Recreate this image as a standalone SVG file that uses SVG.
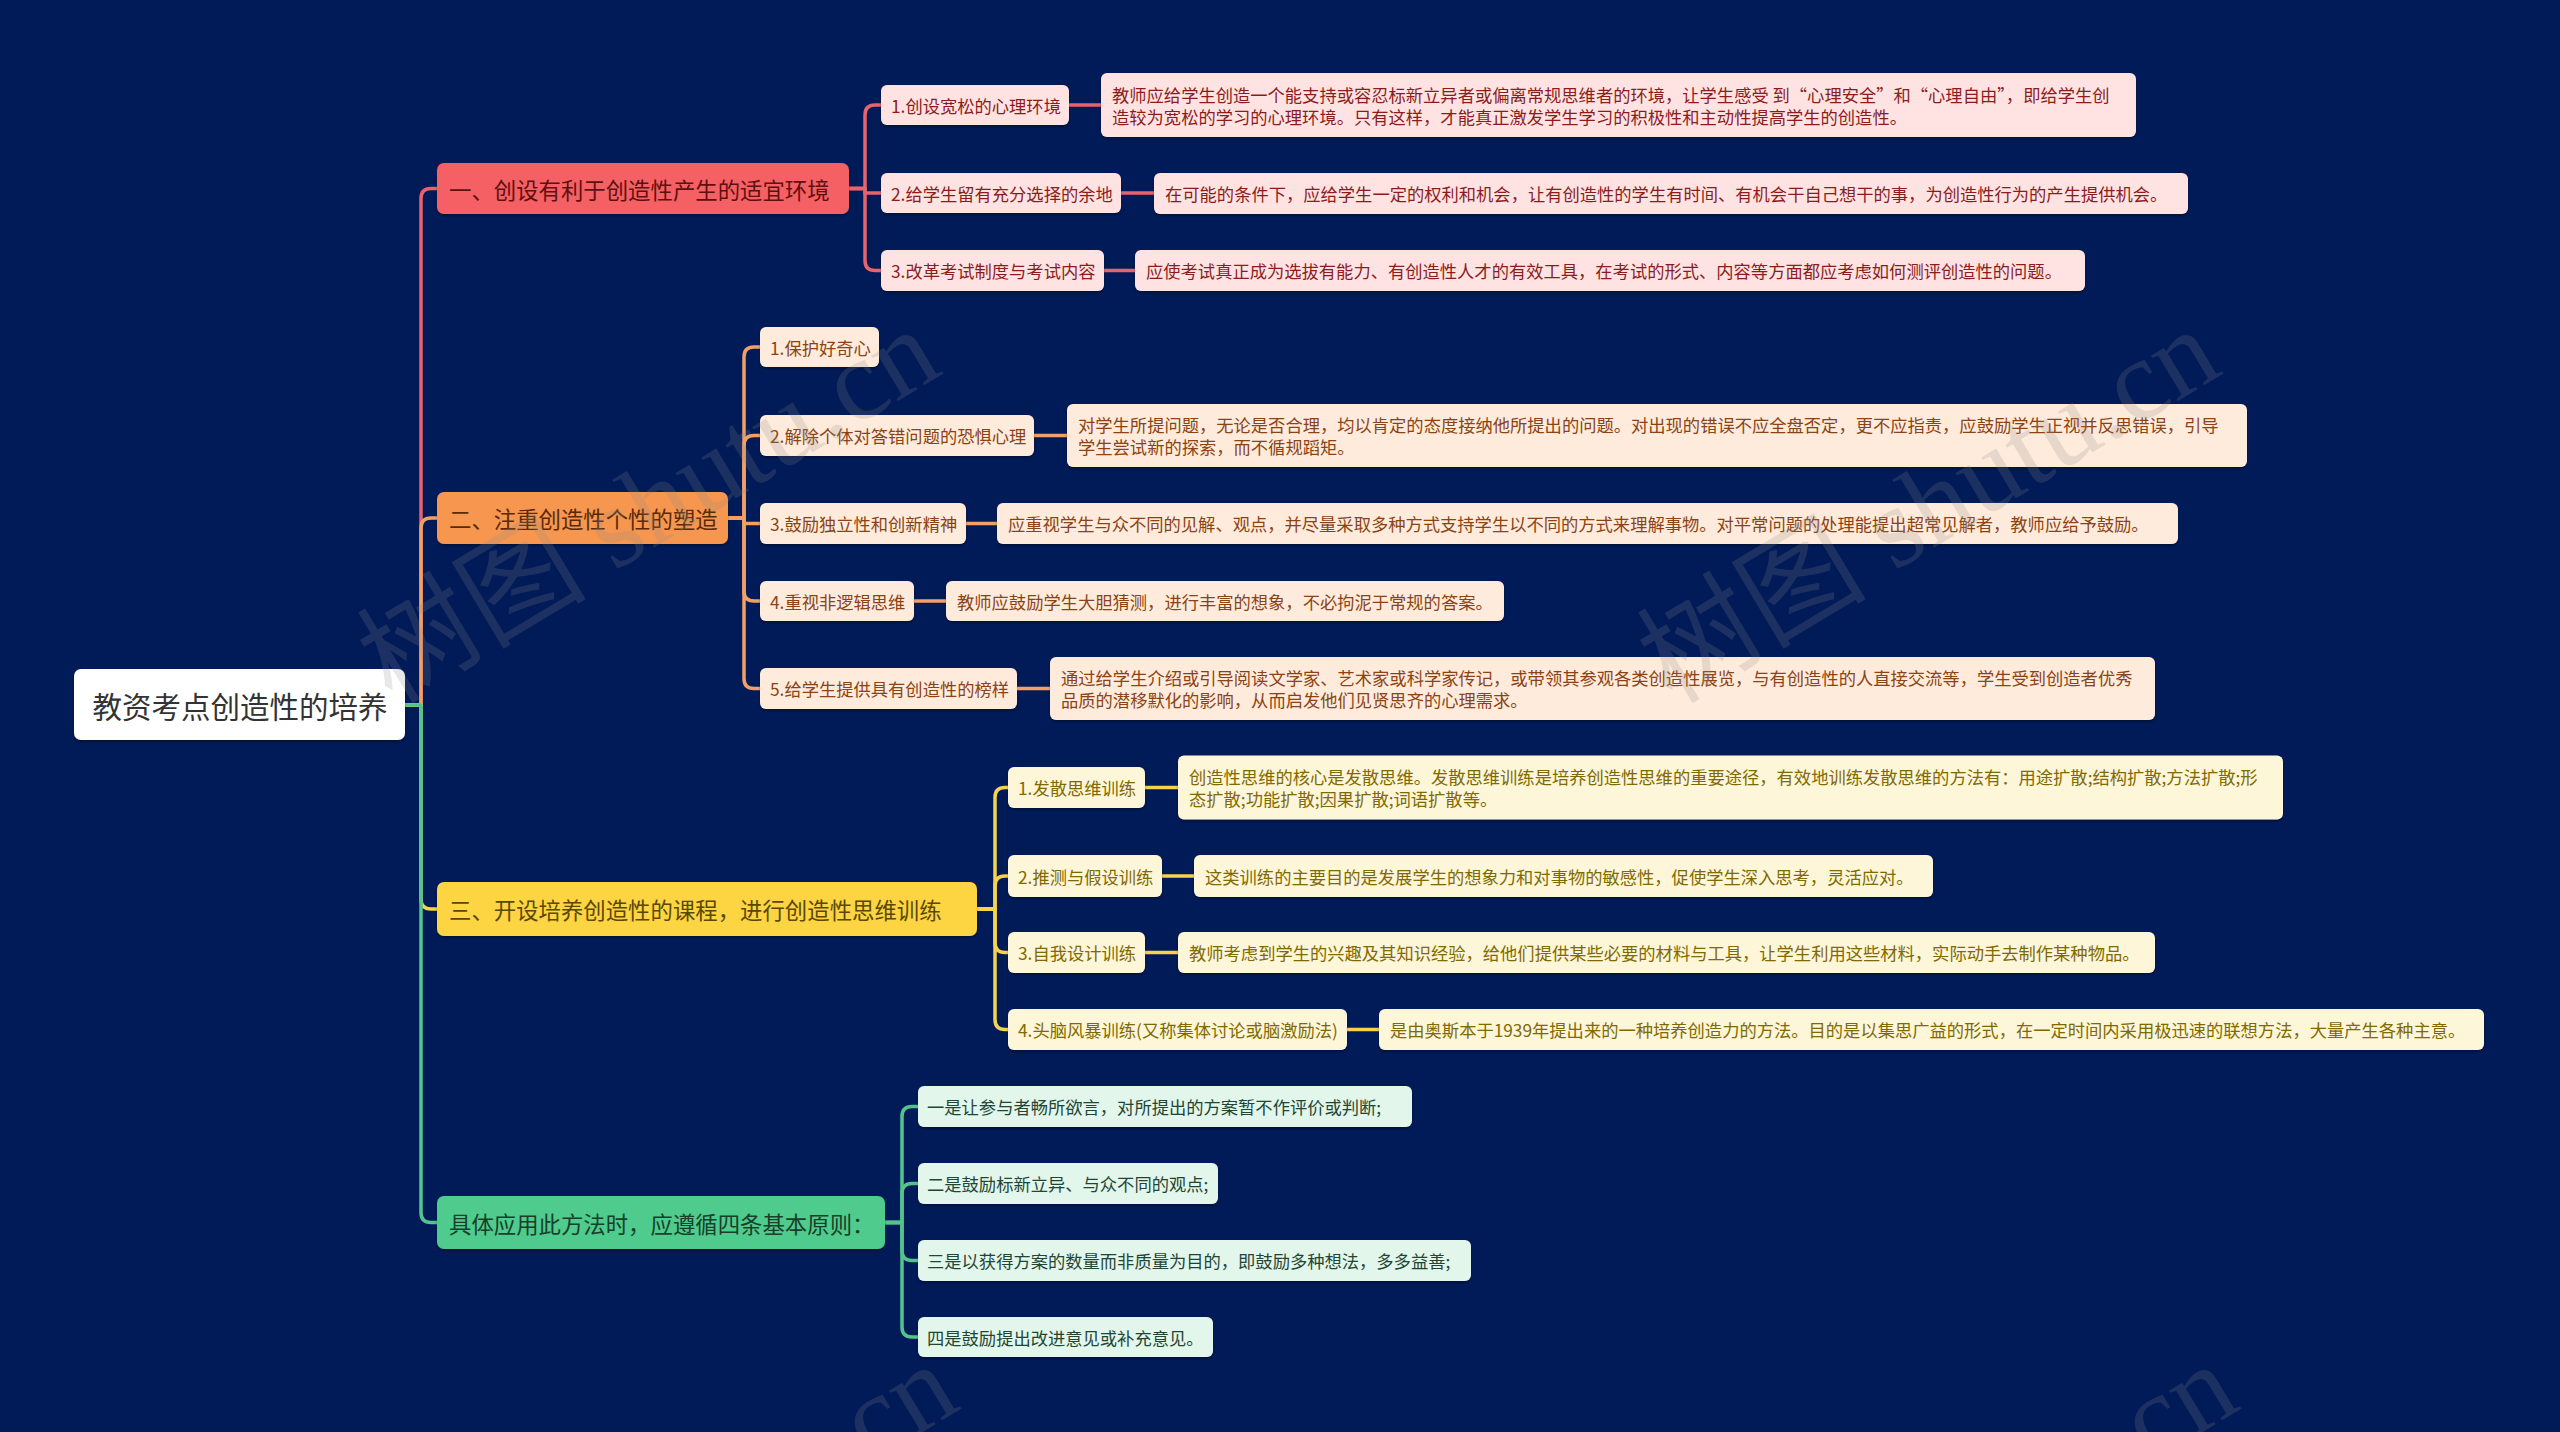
<svg xmlns="http://www.w3.org/2000/svg" width="2560" height="1432" viewBox="0 0 2560 1432">
<defs>
<style>
text{font-family:"Noto Sans CJK SC","Noto Sans",sans-serif;dominant-baseline:central}
.root rect{fill:#ffffff}
.root text{fill:#333333;font-size:29.5px;text-anchor:middle}
.br text{font-size:22.4px}
.lf text{font-size:17.3px}
.b1 .br rect{fill:#f46163}.b1 .br text{fill:#5e1010}
.b1 .lf rect{fill:#ffe3e3}.b1 .lf text{fill:#8c1c1c}
.b2 .br rect{fill:#f7964f}.b2 .br text{fill:#5a2a08}
.b2 .lf rect{fill:#ffebdc}.b2 .lf text{fill:#8b4314}
.b3 .br rect{fill:#fdd443}.b3 .br text{fill:#5a4800}
.b3 .lf rect{fill:#fef6d8}.b3 .lf text{fill:#806a00}
.b4 .br rect{fill:#4fcb8d}.b4 .br text{fill:#173f2a}
.b4 .lf rect{fill:#e2f6ec}.b4 .lf text{fill:#1f4634}
rect{filter:url(#sh)}
#connectors path{fill:none;stroke-width:3.5;stroke-linejoin:round;stroke-linecap:round}
.c1{stroke:#e8636b}.c2{stroke:#f3a066}.c3{stroke:#f5d34c}.c4{stroke:#52c48c}
.wm{font-family:"Liberation Serif","Noto Sans CJK SC",serif;font-size:115px;fill:#8a8a8a;opacity:0.2;dominant-baseline:auto}
</style>
<filter id="sh" x="-5%" y="-20%" width="110%" height="150%">
<feDropShadow dx="0" dy="2" stdDeviation="1" flood-color="#000000" flood-opacity="0.35"/>
</filter>
</defs>
<rect x="0" y="0" width="2560" height="1432" fill="#011b58" style="filter:none"/>

<g id="connectors">
<path class="c1" d="M405 705 H421 V198.5 Q421 188.5 431 188.5 H437"/>
<path class="c2" d="M405 705 H421 V528 Q421 518 431 518 H437"/>
<path class="c3" d="M405 705 H421 V899 Q421 909 431 909 H437"/>
<path class="c4" d="M405 705 H421 V1212.5 Q421 1222.5 431 1222.5 H437"/>

<path class="c1" d="M849 188.5 H865 V115 Q865 105 875 105 H881"/>
<path class="c1" d="M849 188.5 H865 V193 H881"/>
<path class="c1" d="M849 188.5 H865 V260.5 Q865 270.5 875 270.5 H881"/>
<path class="c1" d="M1069 105 H1101"/>
<path class="c1" d="M1121 193 H1154"/>
<path class="c1" d="M1104 270.5 H1135"/>

<path class="c2" d="M728 518 H744 V357 Q744 347 754 347 H760"/>
<path class="c2" d="M728 518 H744 V445.5 Q744 435.5 754 435.5 H760"/>
<path class="c2" d="M728 518 H744 V523.5 H760"/>
<path class="c2" d="M728 518 H744 V591 Q744 601 754 601 H760"/>
<path class="c2" d="M728 518 H744 V678.5 Q744 688.5 754 688.5 H760"/>
<path class="c2" d="M1034 435.5 H1067"/>
<path class="c2" d="M966 523.5 H997"/>
<path class="c2" d="M914 601 H946"/>
<path class="c2" d="M1017 688.5 H1050"/>

<path class="c3" d="M977 909 H995 V797.5 Q995 787.5 1005 787.5 H1008"/>
<path class="c3" d="M977 909 H995 V886 Q995 876 1005 876 H1008"/>
<path class="c3" d="M977 909 H995 V942.5 Q995 952.5 1005 952.5 H1008"/>
<path class="c3" d="M977 909 H995 V1019.5 Q995 1029.5 1005 1029.5 H1008"/>
<path class="c3" d="M1145 787.5 H1178"/>
<path class="c3" d="M1162 876 H1194"/>
<path class="c3" d="M1145 952.5 H1178"/>
<path class="c3" d="M1347 1029.5 H1379"/>

<path class="c4" d="M885 1222.5 H902 V1116.5 Q902 1106.5 912 1106.5 H918"/>
<path class="c4" d="M885 1222.5 H902 V1193.5 Q902 1183.5 912 1183.5 H918"/>
<path class="c4" d="M885 1222.5 H902 V1250.5 Q902 1260.5 912 1260.5 H918"/>
<path class="c4" d="M885 1222.5 H902 V1327 Q902 1337 912 1337 H918"/>
</g>

<g id="root" class="root">
<rect x="74" y="669" width="331" height="71" rx="7"/>
<text x="240" y="705">教资考点创造性的培养</text>
</g>

<g class="b1">
<g id="b1" class="br"><rect x="437" y="163" width="412" height="51" rx="7"/><text x="449" y="188.5">一、创设有利于创造性产生的适宜环境</text></g>
<g id="b1-1" class="lf"><rect x="881" y="85" width="188" height="40" rx="6"/><text x="891" y="105">1.创设宽松的心理环境</text></g>
<g id="b1-2" class="lf"><rect x="881" y="173" width="240" height="40" rx="6"/><text x="891" y="193">2.给学生留有充分选择的余地</text></g>
<g id="b1-3" class="lf"><rect x="881" y="250" width="223" height="41" rx="6"/><text x="891" y="270.5">3.改革考试制度与考试内容</text></g>
<g id="b1-1-d" class="lf"><rect x="1101" y="73" width="1035" height="64" rx="6"/><text x="1112" y="94">教师应给学生创造一个能支持或容忍标新立异者或偏离常规思维者的环境，让学生感受 到“心理安全”和“心理自由”，即给学生创</text><text x="1112" y="116">造较为宽松的学习的心理环境。只有这样，才能真正激发学生学习的积极性和主动性提高学生的创造性。</text></g>
<g id="b1-2-d" class="lf"><rect x="1154" y="173" width="1034" height="41" rx="6"/><text x="1165" y="193.5">在可能的条件下，应给学生一定的权利和机会，让有创造性的学生有时间、有机会干自己想干的事，为创造性行为的产生提供机会。</text></g>
<g id="b1-3-d" class="lf"><rect x="1135" y="250" width="950" height="41" rx="6"/><text x="1146" y="270.5">应使考试真正成为选拔有能力、有创造性人才的有效工具，在考试的形式、内容等方面都应考虑如何测评创造性的问题。</text></g>
</g>

<g class="b2">
<g id="b2" class="br"><rect x="437" y="492" width="291" height="52" rx="7"/><text x="449" y="518">二、注重创造性个性的塑造</text></g>
<g id="b2-1" class="lf"><rect x="760" y="327" width="119" height="40" rx="6"/><text x="770" y="347">1.保护好奇心</text></g>
<g id="b2-2" class="lf"><rect x="760" y="415" width="274" height="41" rx="6"/><text x="770" y="435.5">2.解除个体对答错问题的恐惧心理</text></g>
<g id="b2-3" class="lf"><rect x="760" y="503" width="206" height="41" rx="6"/><text x="770" y="523.5">3.鼓励独立性和创新精神</text></g>
<g id="b2-4" class="lf"><rect x="760" y="581" width="154" height="40" rx="6"/><text x="770" y="601">4.重视非逻辑思维</text></g>
<g id="b2-5" class="lf"><rect x="760" y="668" width="257" height="41" rx="6"/><text x="770" y="688.5">5.给学生提供具有创造性的榜样</text></g>
<g id="b2-2-d" class="lf"><rect x="1067" y="404" width="1180" height="63" rx="6"/><text x="1078" y="424.5">对学生所提问题，无论是否合理，均以肯定的态度接纳他所提出的问题。对出现的错误不应全盘否定，更不应指责，应鼓励学生正视并反思错误，引导</text><text x="1078" y="446.5">学生尝试新的探索，而不循规蹈矩。</text></g>
<g id="b2-3-d" class="lf"><rect x="997" y="503" width="1181" height="41" rx="6"/><text x="1008" y="523.5">应重视学生与众不同的见解、观点，并尽量采取多种方式支持学生以不同的方式来理解事物。对平常问题的处理能提出超常见解者，教师应给予鼓励。</text></g>
<g id="b2-4-d" class="lf"><rect x="946" y="581" width="558" height="40" rx="6"/><text x="957" y="601">教师应鼓励学生大胆猜测，进行丰富的想象，不必拘泥于常规的答案。</text></g>
<g id="b2-5-d" class="lf"><rect x="1050" y="657" width="1105" height="63" rx="6"/><text x="1061" y="677.5">通过给学生介绍或引导阅读文学家、艺术家或科学家传记，或带领其参观各类创造性展览，与有创造性的人直接交流等，学生受到创造者优秀</text><text x="1061" y="699.5">品质的潜移默化的影响，从而启发他们见贤思齐的心理需求。</text></g>
</g>

<g class="b3">
<g id="b3" class="br"><rect x="437" y="882" width="540" height="54" rx="7"/><text x="449" y="909">三、开设培养创造性的课程，进行创造性思维训练</text></g>
<g id="b3-1" class="lf"><rect x="1008" y="767" width="137" height="41" rx="6"/><text x="1018" y="787.5">1.发散思维训练</text></g>
<g id="b3-2" class="lf"><rect x="1008" y="855" width="154" height="42" rx="6"/><text x="1018" y="876">2.推测与假设训练</text></g>
<g id="b3-3" class="lf"><rect x="1008" y="932" width="137" height="41" rx="6"/><text x="1018" y="952.5">3.自我设计训练</text></g>
<g id="b3-4" class="lf"><rect x="1008" y="1009" width="339" height="41" rx="6"/><text x="1018" y="1029.5">4.头脑风暴训练(又称集体讨论或脑激励法)</text></g>
<g id="b3-1-d" class="lf"><rect x="1178" y="755.5" width="1105" height="64" rx="6"/><text x="1189" y="776.5">创造性思维的核心是发散思维。发散思维训练是培养创造性思维的重要途径，有效地训练发散思维的方法有：用途扩散;结构扩散;方法扩散;形</text><text x="1189" y="798.5">态扩散;功能扩散;因果扩散;词语扩散等。</text></g>
<g id="b3-2-d" class="lf"><rect x="1194" y="855" width="739" height="42" rx="6"/><text x="1205" y="876">这类训练的主要目的是发展学生的想象力和对事物的敏感性，促使学生深入思考，灵活应对。</text></g>
<g id="b3-3-d" class="lf"><rect x="1178" y="932" width="977" height="41" rx="6"/><text x="1189" y="952.5">教师考虑到学生的兴趣及其知识经验，给他们提供某些必要的材料与工具，让学生利用这些材料，实际动手去制作某种物品。</text></g>
<g id="b3-4-d" class="lf"><rect x="1379" y="1009" width="1105" height="41" rx="6"/><text x="1390" y="1029.5">是由奥斯本于1939年提出来的一种培养创造力的方法。目的是以集思广益的形式，在一定时间内采用极迅速的联想方法，大量产生各种主意。</text></g>
</g>

<g class="b4">
<g id="b4" class="br"><rect x="437" y="1196" width="448" height="53" rx="7"/><text x="449" y="1222.5">具体应用此方法时，应遵循四条基本原则：</text></g>
<g id="b4-1" class="lf"><rect x="918" y="1086" width="494" height="41" rx="6"/><text x="927" y="1106.5">一是让参与者畅所欲言，对所提出的方案暂不作评价或判断;</text></g>
<g id="b4-2" class="lf"><rect x="918" y="1163" width="300" height="41" rx="6"/><text x="927" y="1183.5">二是鼓励标新立异、与众不同的观点;</text></g>
<g id="b4-3" class="lf"><rect x="918" y="1240" width="553" height="41" rx="6"/><text x="927" y="1260.5">三是以获得方案的数量而非质量为目的，即鼓励多种想法，多多益善;</text></g>
<g id="b4-4" class="lf"><rect x="918" y="1317" width="295" height="40" rx="6"/><text x="927" y="1337">四是鼓励提出改进意见或补充意见。</text></g>
</g>

<g id="watermarks">
<text class="wm" transform="translate(392 705) rotate(-31)">树图 shutu.cn</text>
<text class="wm" transform="translate(1672 705) rotate(-31)">树图 shutu.cn</text>
<text class="wm" transform="translate(410 1740) rotate(-31)">树图 shutu.cn</text>
<text class="wm" transform="translate(1690 1740) rotate(-31)">树图 shutu.cn</text>
</g>
</svg>
